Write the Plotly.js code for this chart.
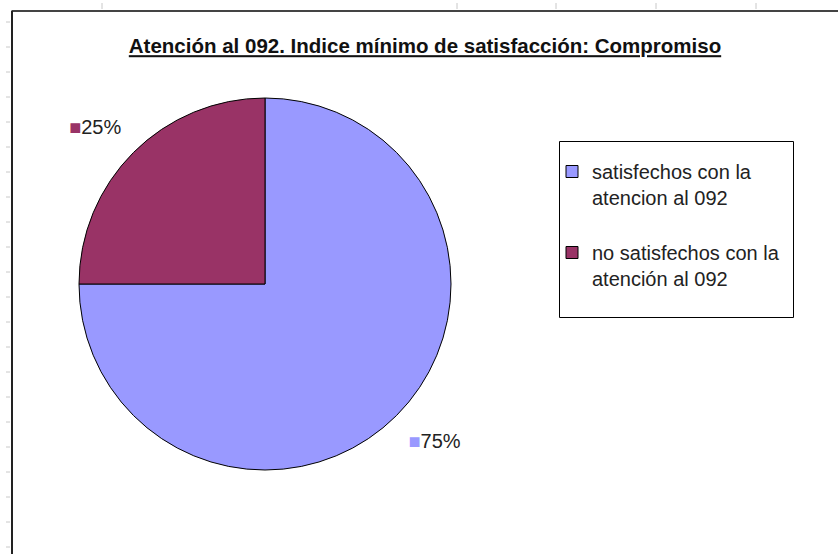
<!DOCTYPE html>
<html>
<head>
<meta charset="utf-8">
<script src="https://cdn.plot.ly/plotly-3.0.1.min.js"></script>
<style>
  body { margin: 0; background: #fff; }
  #chart { width: 838px; height: 554px; }
</style>
</head>
<body>
<div id="chart"></div>
<script>
// datos del grafico
var etiquetas = ["satisfechos con la<br>atencion al 092<br> ", "no satisfechos con la<br>atención al 092"];
var valores = [75, 25];
var colores = ["#9999FF", "#993366"];

var titulo = "Atención al 092. Indice mínimo de satisfacción: Compromiso";

// rejilla de la hoja de calculo (solo decoracion)
var filasY = [];
for (var i = 0; i < 22; i++) filasY.push(22 + i * 25);
var columnasX = [102, 457, 556, 656, 756];

var W = 838, H = 554;
var fuente = 'Liberation Sans, Arial, sans-serif';
var shapes = [];
filasY.forEach(function (py) {
  shapes.push({type: 'line', xref: 'paper', yref: 'paper',
    x0: 6 / W, x1: 10 / W, y0: 1 - py / H, y1: 1 - py / H,
    line: {color: '#c8c8c8', width: 1}});
});
columnasX.forEach(function (px) {
  shapes.push({type: 'line', xref: 'paper', yref: 'paper',
    x0: px / W, x1: px / W, y0: 1 - 3 / H, y1: 1 - 9 / H,
    line: {color: '#c8c8c8', width: 1}});
});
// borde del area del grafico
shapes.push({type: 'line', xref: 'paper', yref: 'paper',
  x0: 11.5 / W, x1: 1, y0: 1 - 11 / H, y1: 1 - 11 / H,
  line: {color: '#444', width: 2}});
shapes.push({type: 'line', xref: 'paper', yref: 'paper',
  x0: 12 / W, x1: 12 / W, y0: 1 - 11 / H, y1: 0,
  line: {color: '#222', width: 2}});
// caja de la leyenda
shapes.push({type: 'rect', xref: 'paper', yref: 'paper',
  x0: 559.5 / W, x1: 793.5 / W, y0: 1 - 141.5 / H, y1: 1 - 317.5 / H,
  line: {color: '#000', width: 1}, layer: 'below'});

// texto de las etiquetas: cuadrito de color + porcentaje
// (una linea vacia extra aleja la etiqueta del borde, como en Excel)
var textos = valores.map(function (v, i) {
  var t = '<span style="color:' + colores[i] + '">■</span>' + v + '%';
  return i === 0 ? ' <br>' + t : t + '<br> ';
});

var trace = {
  type: 'pie',
  labels: etiquetas,
  values: valores,
  text: textos,
  sort: false,
  direction: 'clockwise',
  rotation: 0,
  marker: {colors: colores, line: {color: '#000', width: 1}},
  textposition: 'outside',
  texttemplate: '%{text}',
  outsidetextfont: {family: fuente, size: 20, color: '#222'},
  hoverinfo: 'label+percent',
  domain: {x: [79 / W, 451 / W], y: [1 - 470 / H, 1 - 98 / H]},
  automargin: false
};

var layout = {
  width: W,
  height: H,
  margin: {l: 0, r: 0, t: 0, b: 0},
  paper_bgcolor: '#fff',
  font: {family: fuente, size: 20, color: '#222'},
  title: {
    text: '<b><u>' + titulo + '</u></b>',
    x: 425 / W, xanchor: 'center',
    y: 1 - 46 / H, yanchor: 'middle',
    font: {family: fuente, size: 20.5, color: '#111'}
  },
  showlegend: true,
  legend: {
    x: 552 / W, xanchor: 'left',
    y: 1 - 152 / H, yanchor: 'top',
    bgcolor: 'rgba(0,0,0,0)',
    borderwidth: 0,
    valign: 'top',
    font: {family: fuente, size: 20, color: '#222'},
    traceorder: 'normal'
  },
  shapes: shapes
};

Plotly.newPlot('chart', [trace], layout, {displayModeBar: false, staticPlot: true});
</script>
</body>
</html>
